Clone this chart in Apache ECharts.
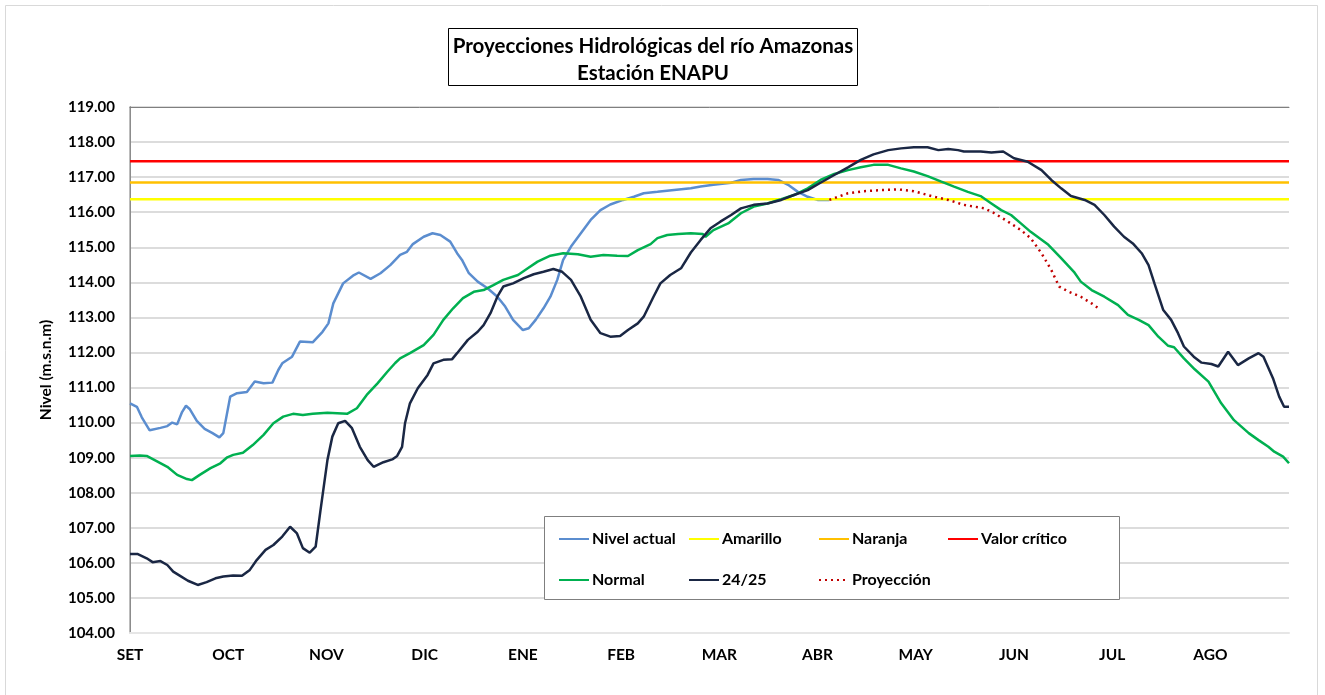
<!DOCTYPE html>
<html>
<head>
<meta charset="utf-8">
<script src="https://cdn.jsdelivr.net/npm/echarts@6/dist/echarts.min.js"></script>
<style>
  html, body { margin: 0; padding: 0; background: #fff; }
  #chart { width: 1325px; height: 695px; }
</style>
</head>
<body>
<div id="chart"></div>
<script>
// meses del eje x (posición = índice del mes, fracciones = días)
const months = ["SET", "OCT", "NOV", "DIC", "ENE", "FEB", "MAR", "ABR", "MAY", "JUN", "JUL", "AGO"];
const yTicks = [104, 119]; // min / max eje y

// umbrales
const amarillo = 116.37;
const naranja = 116.85;
const critico = 117.45;

// Nivel actual
const actualX = [0, 0.07, 0.12, 0.20, 0.31, 0.38, 0.43, 0.48, 0.53, 0.57, 0.61, 0.68, 0.76, 0.84, 0.91, 0.95,
  1.02, 1.09, 1.19, 1.27, 1.36, 1.45, 1.51, 1.55, 1.65, 1.73, 1.86, 1.96, 2.02, 2.07, 2.17, 2.27, 2.33,
  2.45, 2.55, 2.65, 2.75, 2.82, 2.88, 2.99, 3.08, 3.16, 3.26, 3.33, 3.38, 3.45, 3.54, 3.64, 3.74, 3.82,
  3.90, 4.00, 4.06, 4.13, 4.21, 4.28, 4.35, 4.41, 4.49, 4.59, 4.69, 4.79, 4.89, 5.02, 5.13, 5.23, 5.37,
  5.54, 5.71, 5.81, 5.94, 6.12, 6.22, 6.35, 6.49, 6.60, 6.70, 6.80, 6.90, 7.00, 7.12];
const actualY = [110.55, 110.45, 110.15, 109.78, 109.85, 109.9, 110.0, 109.95, 110.3, 110.48, 110.38, 110.05, 109.82, 109.7, 109.58, 109.7,
  110.74, 110.84, 110.87, 111.17, 111.12, 111.14, 111.5, 111.69, 111.88, 112.31, 112.29, 112.59, 112.83, 113.4, 113.97, 114.19, 114.28,
  114.1, 114.26, 114.49, 114.78, 114.87, 115.09, 115.3, 115.4, 115.35, 115.16, 114.83, 114.64, 114.26, 114.02, 113.83, 113.59, 113.31,
  112.93, 112.64, 112.69, 112.93, 113.26, 113.59, 114.07, 114.64, 115.02, 115.4, 115.78, 116.06, 116.22, 116.35, 116.44, 116.54, 116.58,
  116.63, 116.68, 116.73, 116.78, 116.84, 116.92, 116.95, 116.95, 116.92, 116.78, 116.58, 116.44, 116.35, 116.35];

// Normal
const normalX = [0, 0.10, 0.17, 0.28, 0.38, 0.48, 0.58, 0.63, 0.71, 0.82, 0.92, 0.99, 1.05, 1.15, 1.25, 1.36,
  1.46, 1.56, 1.66, 1.76, 1.86, 2.01, 2.11, 2.21, 2.31, 2.41, 2.52, 2.62, 2.70, 2.75, 2.85, 2.99, 3.09,
  3.19, 3.29, 3.39, 3.50, 3.60, 3.70, 3.80, 3.95, 4.05, 4.15, 4.28, 4.41, 4.56, 4.69, 4.82, 4.96, 5.07,
  5.17, 5.30, 5.37, 5.47, 5.58, 5.71, 5.83, 5.86, 5.94, 6.09, 6.22, 6.35, 6.49, 6.63, 6.76, 6.90, 7.03,
  7.17, 7.31, 7.44, 7.57, 7.72, 7.85, 7.98, 8.12, 8.26, 8.39, 8.53, 8.66, 8.77, 8.87, 8.97, 9.07, 9.17,
  9.35, 9.48, 9.61, 9.68, 9.79, 9.92, 10.06, 10.16, 10.27, 10.37, 10.47, 10.57, 10.63, 10.73, 10.84,
  10.98, 11.11, 11.24, 11.39, 11.49, 11.59, 11.65, 11.74, 11.80];
const normalY = [109.05, 109.06, 109.05, 108.89, 108.74, 108.51, 108.39, 108.36, 108.51, 108.7, 108.84, 109.01, 109.08, 109.14, 109.36, 109.65,
  109.98, 110.17, 110.25, 110.22, 110.25, 110.28, 110.27, 110.25, 110.41, 110.79, 111.12, 111.45, 111.7, 111.83, 111.98, 112.21, 112.5,
  112.93, 113.26, 113.55, 113.73, 113.78, 113.92, 114.07, 114.21, 114.4, 114.59, 114.76, 114.83, 114.8, 114.73, 114.78, 114.76, 114.75,
  114.92, 115.09, 115.26, 115.35, 115.38, 115.4, 115.38, 115.3, 115.49, 115.68, 115.97, 116.16, 116.25, 116.37, 116.49, 116.68, 116.92,
  117.09, 117.2, 117.28, 117.35, 117.35, 117.25, 117.16, 117.03, 116.87, 116.73, 116.58, 116.46, 116.25, 116.06, 115.92, 115.68, 115.44,
  115.07, 114.69, 114.3, 114.02, 113.78, 113.59, 113.35, 113.07, 112.93, 112.78, 112.45, 112.19, 112.15, 111.83, 111.52,
  111.17, 110.55, 110.07, 109.7, 109.5, 109.31, 109.17, 109.03, 108.84];

// 24/25
const anioX = [0, 0.08, 0.17, 0.23, 0.31, 0.38, 0.44, 0.51, 0.59, 0.69, 0.78, 0.87, 0.95, 1.05, 1.14, 1.22,
  1.29, 1.38, 1.46, 1.55, 1.63, 1.70, 1.76, 1.83, 1.89, 1.94, 2.01, 2.06, 2.12, 2.19, 2.26, 2.34, 2.42,
  2.48, 2.58, 2.67, 2.72, 2.77, 2.80, 2.85, 2.93, 3.03, 3.09, 3.19, 3.28, 3.33, 3.44, 3.54, 3.60, 3.67,
  3.74, 3.80, 3.90, 4.01, 4.11, 4.21, 4.31, 4.40, 4.49, 4.59, 4.69, 4.79, 4.89, 4.99, 5.07, 5.17, 5.23,
  5.33, 5.40, 5.50, 5.61, 5.71, 5.81, 5.91, 6.01, 6.12, 6.22, 6.35, 6.49, 6.63, 6.76, 6.90, 7.03, 7.17,
  7.31, 7.44, 7.57, 7.72, 7.85, 7.98, 8.12, 8.23, 8.33, 8.43, 8.49, 8.66, 8.77, 8.89, 9.00, 9.14, 9.28,
  9.38, 9.48, 9.58, 9.72, 9.82, 9.92, 10.02, 10.12, 10.21, 10.30, 10.37, 10.43, 10.52, 10.60, 10.67,
  10.73, 10.83, 10.91, 11.01, 11.08, 11.18, 11.28, 11.39, 11.49, 11.54, 11.64, 11.70, 11.75, 11.80];
const anioY = [106.25, 106.25, 106.13, 106.02, 106.05, 105.94, 105.75, 105.63, 105.49, 105.37, 105.45, 105.56, 105.61, 105.64, 105.63, 105.8,
  106.08, 106.37, 106.51, 106.75, 107.03, 106.84, 106.42, 106.29, 106.46, 107.51, 108.93, 109.6, 109.98, 110.05, 109.84, 109.31, 108.93,
  108.74, 108.87, 108.95, 109.05, 109.31, 109.98, 110.55, 110.98, 111.36, 111.69, 111.79, 111.81, 111.98, 112.36, 112.59, 112.78, 113.12,
  113.59, 113.88, 113.97, 114.12, 114.23, 114.3, 114.38, 114.3, 114.07, 113.59, 112.93, 112.55, 112.45, 112.47, 112.64, 112.83, 113.02,
  113.59, 113.97, 114.21, 114.4, 114.85, 115.21, 115.54, 115.73, 115.92, 116.11, 116.21, 116.25, 116.35, 116.49, 116.63, 116.84, 117.06,
  117.28, 117.49, 117.65, 117.77, 117.82, 117.85, 117.85, 117.77, 117.8, 117.77, 117.73, 117.73, 117.7, 117.73, 117.54, 117.44, 117.2,
  116.92, 116.68, 116.46, 116.35, 116.21, 115.92, 115.59, 115.3, 115.11, 114.83, 114.49, 113.97, 113.21, 112.93, 112.55,
  112.17, 111.88, 111.71, 111.67, 111.6, 112.02, 111.64, 111.83, 111.98, 111.88, 111.24, 110.74, 110.45, 110.45];

// Proyección
const proyX = [7.12, 7.17, 7.31, 7.47, 7.65, 7.82, 7.98, 8.16, 8.33, 8.49, 8.70, 8.80, 8.94, 9.07, 9.17,
  9.28, 9.38, 9.46, 9.56, 9.68, 9.79, 9.86];
const proyY = [116.35, 116.4, 116.54, 116.6, 116.63, 116.65, 116.6, 116.46, 116.35, 116.21, 116.11, 115.97, 115.73, 115.49, 115.26,
  114.83, 114.35, 113.88, 113.73, 113.59, 113.4, 113.26];

const xMax = 11.8;
const zip = (xs, ys) => xs.map((x, i) => [x, ys[i]]);
const flat = (v) => [[0, v], [xMax, v]];

const chart = echarts.init(document.getElementById("chart"));
const font = "Lato, 'Open Sans', sans-serif";

const lineSeries = (name, data, color, width, extra) => Object.assign({
  name: name,
  type: "line",
  data: data,
  symbol: "none",
  smooth: false,
  animation: false,
  lineStyle: { color: color, width: width },
  itemStyle: { color: color },
}, extra || {});

const legendBase = {
  orient: "vertical",
  itemWidth: 30,
  itemHeight: 14,
  itemGap: 25,
  itemStyle: { opacity: 0 },
  textStyle: { fontFamily: font, fontSize: 16, fontWeight: "bold", color: "#000", padding: [0, 0, 0, -2] },
  selectedMode: false,
};

const option = {
  backgroundColor: "#fff",
  animation: false,
  textStyle: { fontFamily: font },
  graphic: [
    { type: "rect", shape: { x: 5.5, y: 5.5, width: 1312, height: 700 }, style: { fill: "none", stroke: "#d9d9d9", lineWidth: 1 }, z: -1 },
    { type: "rect", shape: { x: 448.5, y: 28.5, width: 409, height: 57 }, style: { fill: "#fff", stroke: "#000", lineWidth: 1 }, z: 10 },
    { type: "text", x: 653, y: 46, style: { text: "Proyecciones Hidrológicas del río Amazonas", fill: "#000", font: "bold 20.5px " + font, textAlign: "center", textVerticalAlign: "middle" }, z: 11 },
    { type: "text", x: 653, y: 73, style: { text: "Estación ENAPU", fill: "#000", font: "bold 20.5px " + font, textAlign: "center", textVerticalAlign: "middle" }, z: 11 },
    { type: "rect", shape: { x: 544.5, y: 516.5, width: 575, height: 83 }, style: { fill: "#fff", stroke: "#7f7f7f", lineWidth: 1 }, z: 3 },
  ],
  legend: [
    Object.assign({}, legendBase, { left: 553, top: 526, data: ["Nivel actual", "Normal"], z: 5 }),
    Object.assign({}, legendBase, { left: 683, top: 526, data: ["Amarillo", "24/25"], z: 5 }),
    Object.assign({}, legendBase, { left: 813, top: 526, data: ["Naranja", "Proyección"], z: 5 }),
    Object.assign({}, legendBase, { left: 942, top: 526, data: ["Valor crítico"], z: 5 }),
  ],
  grid: { left: 130, right: 36, top: 107, bottom: 62, containLabel: false },
  xAxis: [
    {
      type: "value",
      min: 0,
      max: xMax,
      interval: 1,
      axisLine: { show: true, lineStyle: { color: "#e6e6e6", width: 2 } },
      axisTick: { show: false },
      splitLine: { show: false },
      axisLabel: {
        margin: 14,
        fontFamily: font,
        fontSize: 15.5,
        fontWeight: "bold",
        color: "#000",
        showMaxLabel: false,
        formatter: (v) => months[Math.round(v)] || "",
      },
    },
    {
      type: "value",
      position: "top",
      min: 0,
      max: xMax,
      axisLine: { show: true, lineStyle: { color: "#7f7f7f", width: 1 } },
      axisTick: { show: false },
      axisLabel: { show: false },
      splitLine: { show: false },
    },
  ],
  yAxis: [
    {
      type: "value",
      min: yTicks[0],
      max: yTicks[1],
      interval: 1,
      name: "Nivel (m.s.n.m)",
      nameLocation: "middle",
      nameGap: 76,
      nameTextStyle: { fontFamily: font, fontSize: 15.5, fontWeight: "bold", color: "#000" },
      axisLine: { show: true, lineStyle: { color: "#404040", width: 1 } },
      axisTick: { show: false },
      axisLabel: {
        margin: 15,
        fontFamily: font,
        fontSize: 15,
        fontWeight: "bold",
        color: "#000",
        formatter: (v) => v.toFixed(2),
      },
      splitLine: { show: true, lineStyle: { color: "#d0d0d0", width: 1.5 } },
    },
    {
      type: "value",
      position: "right",
      min: yTicks[0],
      max: yTicks[1],
      axisLine: { show: true, lineStyle: { color: "#a6a6a6", width: 1.5 } },
      axisTick: { show: false },
      axisLabel: { show: false },
      splitLine: { show: false },
    },
  ],
  series: [
    lineSeries("Nivel actual", zip(actualX, actualY), "#5b8dcf", 2.5),
    lineSeries("Amarillo", flat(amarillo), "#ffff00", 2.5),
    lineSeries("Naranja", flat(naranja), "#ffc000", 2.5),
    lineSeries("Valor crítico", flat(critico), "#ff0000", 2.5),
    lineSeries("Normal", zip(normalX, normalY), "#00b050", 2.5),
    lineSeries("24/25", zip(anioX, anioY), "#1a2744", 2.5),
    lineSeries("Proyección", zip(proyX, proyY), "#c00000", 2.5, {
      lineStyle: { color: "#c00000", width: 2.5, type: [2, 4] },
    }),
  ],
};

chart.setOption(option);
</script>
</body>
</html>
